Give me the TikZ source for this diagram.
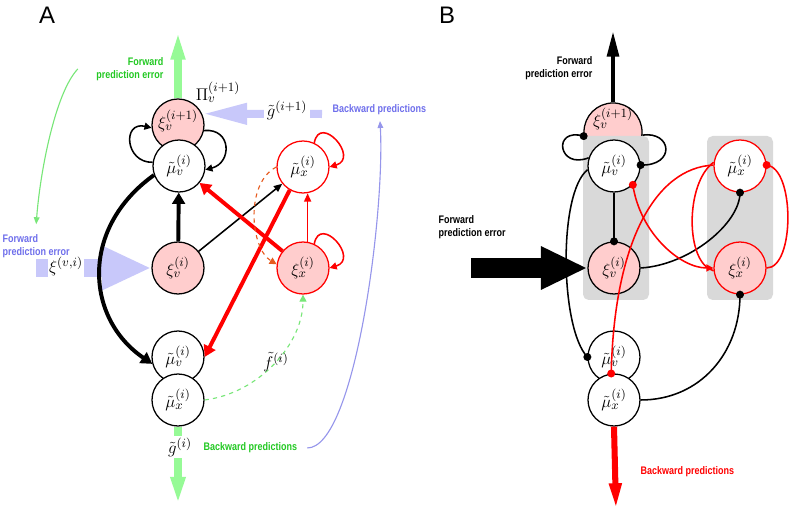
\documentclass[tikz,border=0pt]{standalone}
\usepackage{fontspec}
\setsansfont{Liberation Sans}
\newfontfamily\narrowfont[FakeStretch=0.82]{Liberation Sans}
\usetikzlibrary{arrows.meta}

\definecolor{pinkfill}{RGB}{255,205,205}
\definecolor{greenT}{RGB}{34,200,34}
\definecolor{greenA}{RGB}{150,250,150}
\definecolor{greenD}{RGB}{120,230,120}
\definecolor{blueT}{RGB}{110,110,235}
\definecolor{blueA}{RGB}{200,200,250}
\definecolor{blueL}{RGB}{150,150,235}
\definecolor{orangeD}{RGB}{230,90,30}
\definecolor{boxgray}{RGB}{217,217,217}

\begin{document}
\begin{tikzpicture}[x=0.025cm, y=0.025cm,
  unit/.style={circle, draw, line width=0.9pt, inner sep=0pt, minimum size=1.3cm, fill=white, font=\fontsize{12.5}{14}\selectfont},
  errunit/.style={unit, fill=pinkfill},
  lbl/.style={font=\narrowfont\bfseries\fontsize{7.8}{9.2}\selectfont, inner sep=1pt},
  sym/.style={font=\fontsize{12.5}{14}\selectfont, inner sep=1pt},
  fat/.style={line width=2.8pt, -{Triangle[width=9pt,length=8pt]}},
  thin/.style={line width=1.1pt, -{Triangle[width=5pt,length=6pt]}},
  loopline/.style={line width=1.1pt}]
\useasboundingbox (0,0) rectangle (791,513);
%
% ---- panel A
\node[font=\sffamily\fontsize{17}{17}\selectfont] (labA) at (47,498) {A};
\node[errunit] (xiTop) at (178,388) {\raisebox{3pt}[\height][\depth]{$\xi_v^{(i+1)}$}};
\node[unit] (muV) at (179,347) {$\tilde{\mu}_v^{(i)}$};
\node[unit, draw=red] (muX) at (303,346) {$\tilde{\mu}_x^{(i)}$};
\node[errunit, draw=red] (xiX) at (303,245) {$\xi_x^{(i)}$};
\node[errunit] (xiV) at (178,245) {$\xi_v^{(i)}$};
\node[unit] (muVlo) at (178,156) {$\tilde{\mu}_v^{(i)}$};
\node[unit] (muXlo) at (178,113) {$\tilde{\mu}_x^{(i)}$};
%
\node[lbl, text=greenT, anchor=east, align=right] (fwdUpA) at (165,444) {Forward\\prediction error};
\node[lbl, text=blueT, anchor=west] (bwdInA) at (331,403) {Backward predictions};
\node[lbl, text=blueT, anchor=west, align=left] (fwdInA) at (1,267) {Forward\\prediction error};
\node[lbl, text=greenT, anchor=west] (bwdOutA) at (202,65) {Backward predictions};
\coordinate (gUp) at (178,483);
\coordinate (gDown) at (178,8);
\coordinate (bStart) at (322,399);
\coordinate (fStart) at (36,245);
\coordinate (bTip) at (380,392);
%
\draw[greenA, line width=5pt, -{Triangle[width=9pt,length=21pt]}] (xiTop.north) -- (gUp);
\draw[greenA, line width=5pt, -{Triangle[width=9.5pt,length=20pt]}] (muXlo.south) -- (gDown);
\draw[blueA, line width=5.7pt, -{Triangle[width=14pt,length=32pt]}] (bStart) -- (xiTop.25);
\draw[blueA, line width=13.5pt, -{Triangle[width=29pt,length=35pt]}] (fStart) -- (xiV.west);
\node[sym, fill=white, inner xsep=2pt] (gTop) at (287,403) {$\tilde{g}^{(i+1)}$};
\node[sym, fill=white, inner xsep=1pt] (xiIn) at (66,247) {$\xi^{(v,i)}$};
\node[sym, fill=white, inner ysep=1pt] (gLow) at (180,66) {$\tilde{g}^{(i)}$};
\node[sym] (piTop) at (218,421) {$\Pi_v^{(i+1)}$};
%
\draw[greenD, line width=0.8pt, -{Triangle[width=4pt,length=5pt]}] ([xshift=-12pt]fwdUpA.west) .. controls (55,420) and (40,340) .. ([yshift=6pt]fwdInA.north);
\draw[blueL, line width=0.8pt, -{Triangle[width=4pt,length=5pt]}] ([xshift=6pt]bwdOutA.east) .. controls (355,65) and (385,300) .. (bTip);
%
\draw[loopline, -{Triangle[width=5pt,length=5pt]}] (muV.172) .. controls (125,350) and (122,392) .. (xiTop.186);
\draw[loopline, -{Triangle[width=5pt,length=5pt]}] (xiTop.-12) .. controls (232,385) and (232,350) .. (muV.-8);
\draw[fat] (xiV) -- (muV);
\draw[thin] (xiV) -- (muX);
\draw[fat] (muV.200) .. controls (80,285) and (85,195) .. (muVlo.195);
\draw[fat, red] (xiX) -- (muV);
\draw[fat, red] (muX.240) -- (muVlo.0);
\draw[thin, red] (xiX.80) -- (muX.-80);
\draw[loopline, red, -{Triangle[width=5pt,length=5pt]}] (muX.65) .. controls (320,400) and (360,355) .. (muX.0);
\draw[loopline, red, -{Triangle[width=5pt,length=5pt]}] (xiX.65) .. controls (320,299) and (360,254) .. (xiX.0);
\draw[orangeD, line width=0.8pt, dashed, -{Triangle[width=5pt,length=5pt]}] (muX.180) .. controls (245,330) and (250,265) .. (xiX.172);
\draw[greenD, line width=0.8pt, dashed, -{Triangle[width=5pt,length=5pt]}] (muXlo.east) .. controls (260,120) and (303,170) .. (xiX.south);
\node[sym] (fLow) at (276,151) {$\tilde{f}^{(i)}$};
%
% ---- panel B
\node[font=\sffamily\fontsize{17}{17}\selectfont] (labB) at (447,498) {B};
\node[errunit, minimum size=1.45cm] (bxiTop) at (613,381) {\raisebox{9pt}[\height][\depth]{$\xi_v^{(i+1)}$}};
\fill[boxgray, rounded corners=4pt] (583,213) rectangle (649,377);
\fill[boxgray, rounded corners=4pt] (707,213) rectangle (773,377);
\node[unit] (bmuV) at (614,347) {$\tilde{\mu}_v^{(i)}$};
\node[errunit] (bxiV) at (614,245) {$\xi_v^{(i)}$};
\node[unit, draw=red] (bmuX) at (740,347) {$\tilde{\mu}_x^{(i)}$};
\node[errunit, draw=red] (bxiX) at (740,245) {$\xi_x^{(i)}$};
\node[unit] (bmuVlo) at (614,156) {$\tilde{\mu}_v^{(i)}$};
\node[unit] (bmuXlo) at (614,113) {$\tilde{\mu}_x^{(i)}$};
%
\node[lbl, anchor=east, align=right] (fwdUpB) at (594,445) {Forward\\prediction error};
\node[lbl, anchor=west, align=left] (fwdInB) at (437,286) {Forward\\prediction error};
\node[lbl, text=red, anchor=west] (bwdOutB) at (639,41) {Backward predictions};
\coordinate (bUp) at (613,483);
\coordinate (bDown) at (616,3);
\coordinate (bIn) at (471,245);
%
\draw[line width=3.5pt, -{Triangle[width=8pt,length=19pt]}] (bxiTop.north) -- (bUp);
\draw[line width=14pt, -{Triangle[width=28.5pt,length=33pt]}] (bIn) -- (bxiV.west);
\draw[red, line width=4.3pt, -{Triangle[width=8pt,length=19pt]}] (bmuXlo.south) -- (bDown);
%
\draw[loopline] (bxiTop.188) .. controls (552,386) and (558,343) .. (bmuV.162);
\draw[loopline] (bmuV.2) .. controls (676,347) and (672,382) .. (bxiTop.-6);
\draw[loopline] (bmuV.south) -- (bxiV.north);
\draw[loopline] (bxiV.east) .. controls (690,248) and (740,290) .. (bmuX.south);
\draw[loopline] (bmuV.188) .. controls (558,320) and (560,185) .. (bmuVlo.180);
\draw[loopline] (bxiX.south) .. controls (740,160) and (700,113) .. (bmuXlo.east);
\draw[loopline, red, -{Triangle[width=5pt,length=5pt]}] (bmuV.-45) .. controls (640,280) and (680,245) .. (bxiX.west);
\draw[loopline, red] (bmuX.178) .. controls (655,345) and (614,270) .. (bmuXlo.96);
\draw[loopline, red] (bmuX.172) .. controls (685,330) and (685,250) .. (bxiX.186);
\draw[loopline, red] (bmuX.2) .. controls (795,345) and (795,245) .. (bxiX.0);
%
\fill (bxiTop.188) circle (4);
\fill (bmuV.2) circle (4);
\fill (bxiV.north) circle (4);
\fill (bmuX.south) circle (4);
\fill (bxiX.south) circle (4);
\fill (bmuVlo.180) circle (4);
\fill[red] (bmuV.-45) circle (4);
\fill[red] (bmuX.2) circle (4);
\fill[red] (bmuXlo.96) circle (4);
%
\end{tikzpicture}
\end{document}
